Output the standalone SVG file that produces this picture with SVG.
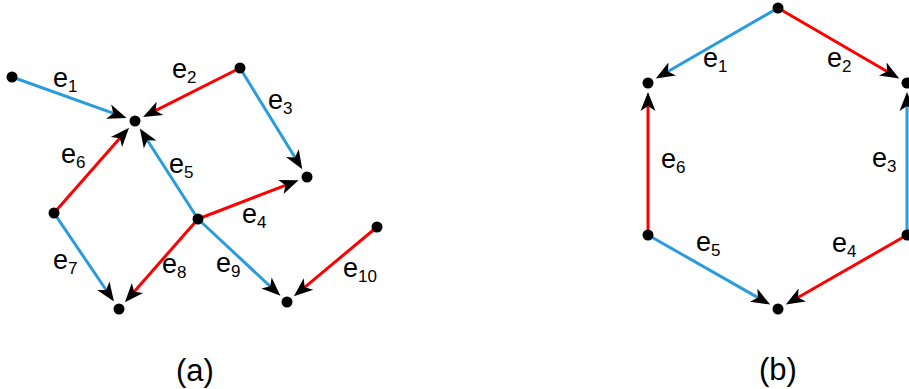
<svg xmlns="http://www.w3.org/2000/svg" width="909" height="389" viewBox="0 0 909 389">
<style>
.b{stroke:#2a9bdc;stroke-width:3;fill:none;marker-end:url(#ar)}
.r{stroke:#ff0000;stroke-width:3;fill:none;marker-end:url(#ar)}
.n{fill:#000}
text{font-family:"Liberation Sans",Arial,sans-serif;fill:#000}
.l{font-size:27px}
.s{font-size:17px}
.cap{font-size:31px;text-anchor:middle}
</style>
<defs>
<marker id="ar" markerUnits="userSpaceOnUse" viewBox="-10 -10 22 20" refX="0" refY="0" markerWidth="22" markerHeight="20" orient="auto" overflow="visible">
<path d="M10,0 L-9,-7.5 L-4,0 L-9,7.5 Z" fill="#000"/>
</marker>
</defs>
<g id="connectors">
<line class="b" x1="12" y1="77" x2="117.11" y2="114.60"/>
<line class="r" x1="240" y1="68" x2="151.96" y2="112.44"/>
<line class="b" x1="240" y1="68" x2="297.05" y2="160.81"/>
<line class="r" x1="198" y1="219" x2="289.27" y2="183.83"/>
<line class="b" x1="198" y1="219" x2="145.28" y2="136.98"/>
<line class="r" x1="54" y1="213" x2="122.44" y2="135.26"/>
<line class="b" x1="54" y1="213" x2="108.35" y2="293.27"/>
<line class="r" x1="198" y1="219" x2="131.53" y2="294.72"/>
<line class="b" x1="198" y1="219" x2="273.11" y2="289.04"/>
<line class="r" x1="377" y1="227" x2="301.60" y2="289.84"/>
<line class="b" x1="778" y1="8" x2="664.46" y2="73.51"/>
<line class="r" x1="778" y1="8" x2="890.57" y2="73.45"/>
<line class="b" x1="907" y1="235" x2="907" y2="102"/>
<line class="r" x1="907" y1="235" x2="794.48" y2="299.55"/>
<line class="b" x1="648" y1="235" x2="761.49" y2="299.60"/>
<line class="r" x1="648" y1="235" x2="648" y2="102"/>
</g>
<g id="labels">
<text class="l" x="53" y="86.5">e<tspan class="s" dy="5">1</tspan></text>
<text class="l" x="172" y="78">e<tspan class="s" dy="5">2</tspan></text>
<text class="l" x="268" y="109">e<tspan class="s" dy="5">3</tspan></text>
<text class="l" x="242" y="223">e<tspan class="s" dy="5">4</tspan></text>
<text class="l" x="169" y="173">e<tspan class="s" dy="5">5</tspan></text>
<text class="l" x="61" y="163">e<tspan class="s" dy="5">6</tspan></text>
<text class="l" x="53" y="269">e<tspan class="s" dy="5">7</tspan></text>
<text class="l" x="162" y="273">e<tspan class="s" dy="5">8</tspan></text>
<text class="l" x="216" y="272">e<tspan class="s" dy="5">9</tspan></text>
<text class="l" x="343" y="277">e<tspan class="s" dy="5">10</tspan></text>
<text class="l" x="703" y="67">e<tspan class="s" dy="5">1</tspan></text>
<text class="l" x="827" y="67">e<tspan class="s" dy="5">2</tspan></text>
<text class="l" x="872" y="167">e<tspan class="s" dy="5">3</tspan></text>
<text class="l" x="832" y="252">e<tspan class="s" dy="5">4</tspan></text>
<text class="l" x="696" y="251">e<tspan class="s" dy="5">5</tspan></text>
<text class="l" x="661" y="168">e<tspan class="s" dy="5">6</tspan></text>
<text class="cap" x="195" y="381">(a)</text>
<text class="cap" x="778" y="380">(b)</text>
</g>
<g id="a-n1"><circle class="n" cx="12" cy="77" r="5.5"/></g>
<g id="a-n2"><circle class="n" cx="135" cy="121" r="5.5"/></g>
<g id="a-n3"><circle class="n" cx="240" cy="68" r="5.5"/></g>
<g id="a-n4"><circle class="n" cx="307" cy="177" r="5.5"/></g>
<g id="a-n5"><circle class="n" cx="54" cy="213" r="5.5"/></g>
<g id="a-n6"><circle class="n" cx="198" cy="219" r="5.5"/></g>
<g id="a-n7"><circle class="n" cx="119" cy="309" r="5.5"/></g>
<g id="a-n8"><circle class="n" cx="287" cy="302" r="5.5"/></g>
<g id="a-n9"><circle class="n" cx="377" cy="227" r="5.5"/></g>
<g id="b-n1"><circle class="n" cx="778" cy="8" r="5.5"/></g>
<g id="b-n2"><circle class="n" cx="648" cy="83" r="5.5"/></g>
<g id="b-n3"><circle class="n" cx="907" cy="83" r="5.5"/></g>
<g id="b-n4"><circle class="n" cx="648" cy="235" r="5.5"/></g>
<g id="b-n5"><circle class="n" cx="778" cy="309" r="5.5"/></g>
<g id="b-n6"><circle class="n" cx="907" cy="235" r="5.5"/></g>
</svg>
